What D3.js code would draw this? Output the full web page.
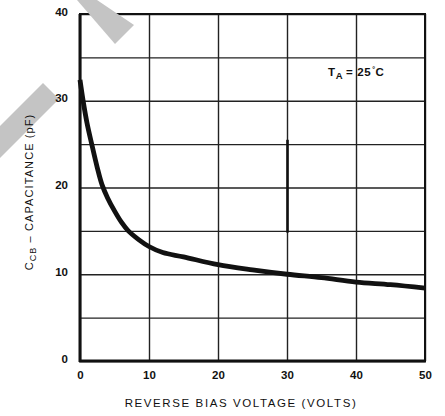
<!DOCTYPE html>
<html>
<head>
<meta charset="utf-8">
<script src="https://cdn.jsdelivr.net/npm/d3@7"></script>
<style>
  body { margin: 0; background: #fff; }
  svg text { font-family: "Liberation Sans", Arial, sans-serif; fill: #111; }
</style>
</head>
<body>
<div id="canvas"></div>
<script>
"use strict"

/* Data */
let voltage = [0, 0.45, 1, 1.7, 2.5, 3.2, 4, 5, 6, 7, 8.5, 10, 12, 15, 20, 25, 30, 35, 40, 45, 50];
let capacitance = [32.4, 30, 27.5, 25, 22.3, 20.3, 18.8, 17.3, 16.0, 15.0, 14.0, 13.2, 12.5, 12.0, 11.1, 10.5, 10.0, 9.6, 9.1, 8.8, 8.4];

let xTickValues = [0, 10, 20, 30, 40, 50];
let yTickValues = [0, 10, 20, 30, 40];
let yGridValues = [0, 5, 10, 15, 20, 25, 30, 35, 40];

/* Drawing canvas */
let drawing = d3.select("#canvas")
    .append("svg")
    .attr("width", 445)
    .attr("height", 416);

let plotLeft = 80, plotRight = 425, plotTop = 14, plotBottom = 361;

let xScale = d3.scaleLinear().domain([0, 50]).range([plotLeft, plotRight]);
let yScale = d3.scaleLinear().domain([0, 40]).range([plotBottom, plotTop]);

/* Grey scan mark on the left, under the axis title */
let scanMarkLeft = drawing.append("polygon")
    .attr("points", "43,83 59,99 0,158 0,126")
    .attr("fill", "#c4c4c4");

/* Grid lines */
let xGrid = drawing.append("g")
    .attr("transform", "translate(0," + plotBottom + ")")
    .call(d3.axisBottom(xScale).tickValues(xTickValues).tickSize(-(plotBottom - plotTop)).tickFormat(""));
xGrid.select(".domain").remove();
xGrid.selectAll("line").attr("stroke", "#222").attr("stroke-width", 1.4);

let yGrid = drawing.append("g")
    .attr("transform", "translate(" + plotLeft + ",0)")
    .call(d3.axisLeft(yScale).tickValues(yGridValues).tickSize(-(plotRight - plotLeft)).tickFormat(""));
yGrid.select(".domain").remove();
yGrid.selectAll("line").attr("stroke", "#222").attr("stroke-width", 1.4);

/* the 30 V line is printed heavier between 15 and 25 pF */
let grid30Heavy = drawing.append("line")
    .attr("x1", xScale(30) + 0.5).attr("y1", yScale(25.5))
    .attr("x2", xScale(30) + 0.5).attr("y2", yScale(14.8))
    .attr("stroke", "#111").attr("stroke-width", 2.6);

/* Tick labels */
let xLabels = drawing.append("g")
    .attr("transform", "translate(0," + plotBottom + ")")
    .call(d3.axisBottom(xScale).tickValues(xTickValues).tickSize(0).tickPadding(10));
xLabels.select(".domain").remove();
xLabels.selectAll("text")
    .attr("font-size", 11.5)
    .attr("font-weight", "bold")
    .attr("font-family", "Liberation Sans, Arial, sans-serif")
    .attr("fill", "#111");

let yLabels = drawing.append("g")
    .attr("transform", "translate(" + plotLeft + ",0)")
    .call(d3.axisLeft(yScale).tickValues(yTickValues).tickSize(0).tickPadding(12));
yLabels.select(".domain").remove();
yLabels.selectAll("text")
    .attr("font-size", 11.5)
    .attr("font-weight", "bold")
    .attr("font-family", "Liberation Sans, Arial, sans-serif")
    .attr("fill", "#111")
    .attr("dy", "0.1em");

/* Frame */
let frame = drawing.append("rect")
    .attr("x", plotLeft)
    .attr("y", plotTop)
    .attr("width", plotRight - plotLeft)
    .attr("height", plotBottom - plotTop)
    .attr("fill", "none")
    .attr("stroke", "#111")
    .attr("stroke-width", 2);

let leftAxis = drawing.append("line")
    .attr("x1", plotLeft).attr("y1", plotTop)
    .attr("x2", plotLeft).attr("y2", plotBottom + 1)
    .attr("stroke", "#111").attr("stroke-width", 3);

let bottomAxis = drawing.append("line")
    .attr("x1", plotLeft - 1).attr("y1", plotBottom)
    .attr("x2", plotRight + 1).attr("y2", plotBottom)
    .attr("stroke", "#111").attr("stroke-width", 3);

/* Capacitance curve */
let points = voltage.map((v, i) => [v, capacitance[i]]);
let curveLine = d3.line()
    .x(d => xScale(d[0]))
    .y(d => yScale(d[1]))
    .curve(d3.curveCatmullRom.alpha(0.5));

let curve = drawing.append("path")
    .attr("d", curveLine(points))
    .attr("fill", "none")
    .attr("stroke", "#111")
    .attr("stroke-width", 4.8)
    .attr("stroke-linecap", "butt");

/* Temperature note */
let note = drawing.append("text")
    .attr("x", 328)
    .attr("y", 76)
    .attr("font-size", 11.5)
    .attr("font-weight", "bold")
    .attr("letter-spacing", 0.6);
note.append("tspan").text("T");
note.append("tspan").attr("font-size", 9.5).attr("dy", 3).text("A");
note.append("tspan").attr("dy", -3).attr("dx", 3).text("= 25");
note.append("tspan").attr("font-size", 7).attr("dy", -4).attr("dx", 1).text("°");
note.append("tspan").attr("dy", 4).text("C");

/* Axis titles */
let xTitle = drawing.append("text")
    .attr("x", 241)
    .attr("y", 407)
    .attr("text-anchor", "middle")
    .attr("font-size", 11.5)
    .attr("letter-spacing", 1.6)
    .text("REVERSE BIAS VOLTAGE (VOLTS)");

let yTitle = drawing.append("text")
    .attr("transform", "translate(33,192) rotate(-90)")
    .attr("text-anchor", "middle")
    .attr("font-size", 11)
    .attr("letter-spacing", 1.1);
yTitle.append("tspan").text("C");
yTitle.append("tspan").attr("font-size", 9).attr("dy", 3).text("CB");
yTitle.append("tspan").attr("dy", -3).text(" – CAPACITANCE (pF)");

/* Grey scan mark across the top left corner of the frame */
let scanMarkTop = drawing.append("polygon")
    .attr("points", "77,0 97,0 134,25 115,44")
    .attr("fill", "#c4c4c4");
</script>
</body>
</html>
